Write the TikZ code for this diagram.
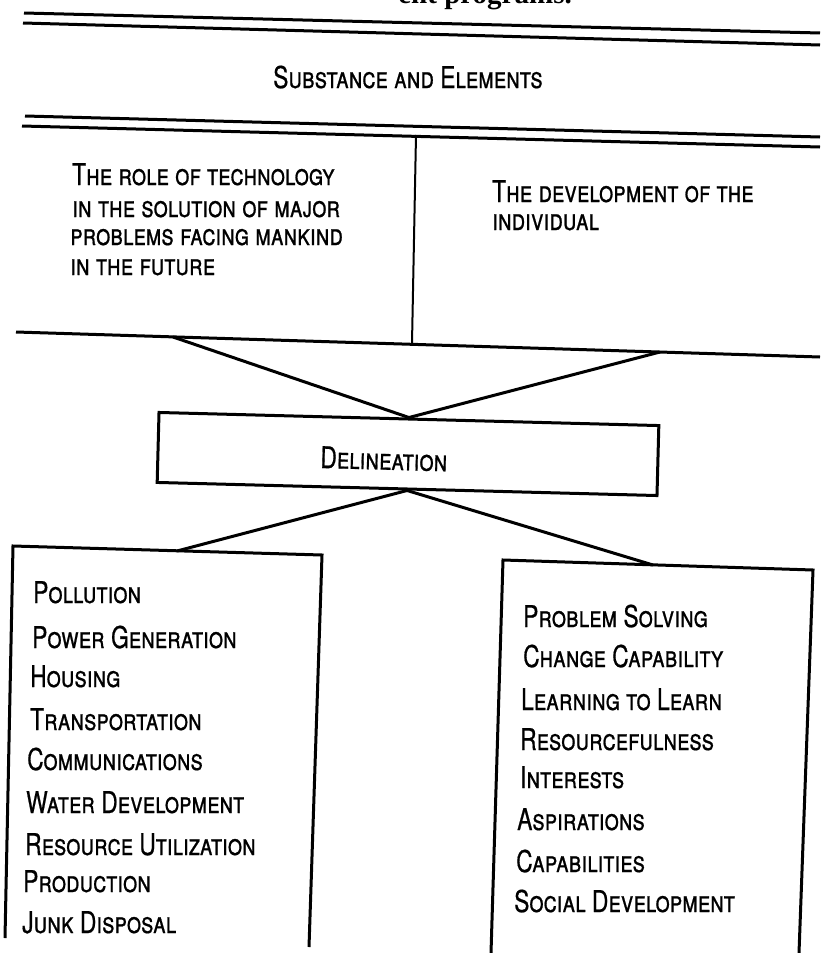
\documentclass[tikz,border=0pt]{standalone}
\usepackage{fontspec}
\setmainfont{TeX Gyre Heros}[FakeStretch=0.76, FakeBold=0.6]
\newfontfamily\headfont{Liberation Serif}
\newcommand{\lettering}{\fontsize{30}{31}\selectfont\scshape}

\tikzset{
  rule/.style={line width=3pt},
  lbl/.style={anchor=base west, inner sep=0pt, font=\lettering},
}

\begin{document}
\begin{tikzpicture}[x=1pt, y=1pt, yscale=-1, xscale=1]
\useasboundingbox (0,0) rectangle (820,953);
\node (runin) [anchor=base east, inner sep=0pt, font=\headfont\bfseries\fontsize{29}{30}\selectfont] at (572,4) {ent programs.};
% heading bands
\draw [rule] (24,13) -- (820,33);
\draw [rule] (23,23) -- (820,45);
\draw [rule] (25,116) -- (820,137);
\draw [rule] (22,126) -- (820,147);
% upper panels
\coordinate (baseL) at (16,332);
\coordinate (baseR) at (820,357);
\coordinate (upL) at (173,337);
\coordinate (upR) at (660,352);
\draw [rule] (baseL) -- (baseR);
\draw [line width=2pt] (416,135) -- (412,343);
% delineation
\node (delin) [draw, line width=3pt, minimum width=500pt, minimum height=70pt, inner sep=0pt, rotate=-1.5] at (408,454) {};
\draw [rule] (upL) -- (delin.north);
\draw [rule] (upR) -- (delin.north);
\coordinate (lowL) at (177,551);
\coordinate (lowR) at (653,565);
\draw [rule] (delin.south) -- (lowL);
\draw [rule] (delin.south) -- (lowR);
% lower boxes
\draw [rule] (5,938) -- (13,546) -- (322,555) -- (309,947);
\draw [rule] (491,953) -- (503,560) -- (813,570) -- (799,953);
%Text
\node (subst) [lbl] at (273,88) {Substance and Elements};
\node (tech1) [lbl] at (72,185) {The role of technology};
\node (tech2) [lbl] at (72,217) {in the solution of major};
\node (tech3) [lbl] at (70,245) {problems facing mankind};
\node (tech4) [lbl] at (70,275) {in the future};
\node (indiv1) [lbl] at (492,202) {The development of the};
\node (indiv2) [lbl] at (492,230) {individual};
\node (delintext) [lbl, rotate=-1.5] at (320,468) {Delineation};
\node (pollution) [lbl] at (33,603) {Pollution};
\node (power) [lbl] at (32,648) {Power Generation};
\node (housing) [lbl] at (30,687) {Housing};
\node (transport) [lbl] at (30,730) {Transportation};
\node (communic) [lbl] at (27,770) {Communications};
\node (water) [lbl] at (26,813) {Water Development};
\node (resource) [lbl] at (25,855) {Resource Utilization};
\node (production) [lbl] at (23,892) {Production};
\node (junk) [lbl] at (22,933) {Junk Disposal};
\node (problem) [lbl] at (523,627) {Problem Solving};
\node (change) [lbl] at (523,667) {Change Capability};
\node (learning) [lbl] at (521,710) {Learning to Learn};
\node (resourceful) [lbl] at (520,750) {Resourcefulness};
\node (interests) [lbl] at (520,788) {Interests};
\node (aspirations) [lbl] at (517,830) {Aspirations};
\node (capabilities) [lbl] at (516,872) {Capabilities};
\node (social) [lbl] at (514,912) {Social Development};
\end{tikzpicture}
\end{document}
